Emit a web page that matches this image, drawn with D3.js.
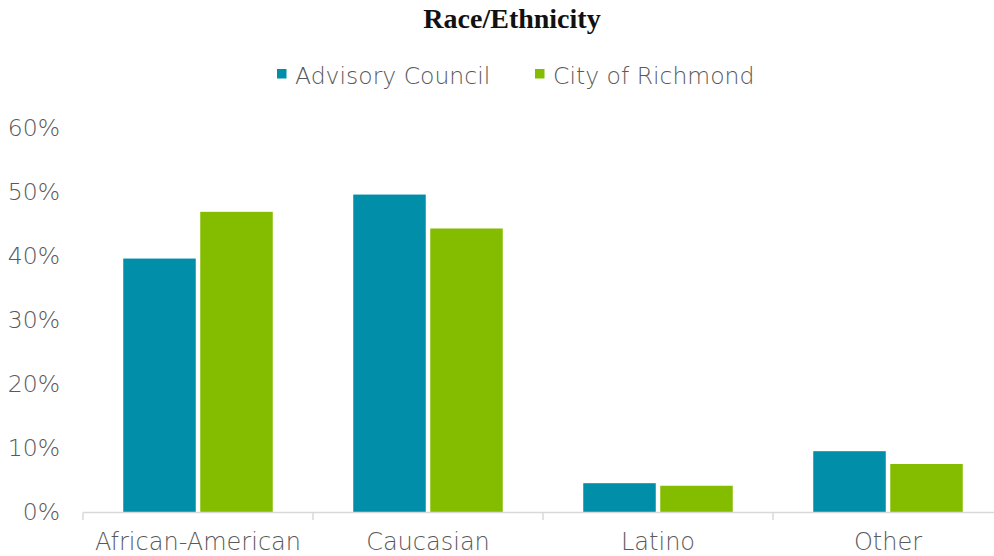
<!DOCTYPE html>
<html>
<head>
<meta charset="utf-8">
<script src="https://cdn.jsdelivr.net/npm/d3@7"></script>
<style>
  body { margin: 0; background: #fff; }
  svg { display: block; }
</style>
</head>
<body>
<div id="chart"></div>
<script>
const categories = ['African-American', 'Caucasian', 'Latino', 'Other'];
const seriesNames = ['Advisory Council', 'City of Richmond'];
const advisoryCouncil = [0.396, 0.496, 0.045, 0.095];
const cityOfRichmond = [0.469, 0.443, 0.041, 0.075];
const yTicks = [0, 0.1, 0.2, 0.3, 0.4, 0.5, 0.6];
const colors = ['#008ea9', '#84bd00'];

const width = 994, height = 556;
const margin = { top: 128, right: -9, bottom: 44, left: 83 };
const innerW = width - margin.left - margin.right;
const innerH = height - margin.top - margin.bottom;

const svg = d3.select('#chart').append('svg')
  .attr('width', width).attr('height', height);

function styleLabel(sel, size) {
  sel.style('font-family', '"DejaVu Sans", sans-serif')
    .style('font-size', size)
    .style('font-weight', 200)
    .style('fill', '#595959');
}

// Title
svg.append('text')
  .attr('x', 512).attr('y', 28)
  .attr('text-anchor', 'middle')
  .style('font-family', '"Liberation Serif", "DejaVu Serif", serif')
  .style('font-weight', 'bold')
  .style('font-size', '28px')
  .style('fill', '#111')
  .text('Race/Ethnicity');

// Legend
const legendX = [277, 535];
seriesNames.forEach((name, i) => {
  const lg = svg.append('g').attr('transform', `translate(${legendX[i]}, 74)`);
  lg.append('rect').attr('x', 0).attr('y', -5).attr('width', 9.5).attr('height', 9.5).attr('fill', colors[i]);
  lg.append('text').attr('x', 18).attr('y', 9.5).text(name).call(styleLabel, '23.5px');
});

const g = svg.append('g').attr('transform', `translate(${margin.left},${margin.top})`);

const x = d3.scaleBand().domain(categories).range([0, innerW]).paddingInner(0).paddingOuter(0);
const y = d3.scaleLinear().domain([0, 0.6]).range([innerH, 0]);

// Y tick labels (no axis line)
const yAxis = g.append('g')
  .call(d3.axisLeft(y).tickValues(yTicks).tickFormat(d3.format('.0%')).tickSize(0).tickPadding(23));
yAxis.select('.domain').remove();
yAxis.selectAll('text').call(styleLabel, '23.5px');

// Bars
const barW = 72.5, gap = 4.5;
const sub = d3.scaleBand().domain(seriesNames).range([0, barW * 2 + gap]).paddingInner(gap / (barW + gap));
const groupOffset = (x.bandwidth() - (barW * 2 + gap)) / 2;
const series = [advisoryCouncil, cityOfRichmond];

categories.forEach((c, ci) => {
  series.forEach((vals, si) => {
    g.append('rect')
      .attr('x', x(c) + groupOffset + sub(seriesNames[si]))
      .attr('y', y(vals[ci]))
      .attr('width', sub.bandwidth())
      .attr('height', innerH - y(vals[ci]))
      .attr('fill', colors[si]);
  });
});

// X axis with boundary ticks
const xAxisG = g.append('g').attr('transform', `translate(0,${innerH})`);
xAxisG.append('line')
  .attr('x1', 0).attr('x2', innerW)
  .attr('y1', 0.5).attr('y2', 0.5)
  .attr('stroke', '#d9d9d9').attr('stroke-width', 1.5);
const boundaries = categories.map(c => x(c)).concat([innerW]);
boundaries.forEach(bx => {
  xAxisG.append('line')
    .attr('x1', bx).attr('x2', bx)
    .attr('y1', 0.5).attr('y2', 8)
    .attr('stroke', '#d9d9d9').attr('stroke-width', 1.5);
});
categories.forEach(c => {
  xAxisG.append('text')
    .attr('x', x(c) + x.bandwidth() / 2)
    .attr('y', 38)
    .attr('text-anchor', 'middle')
    .text(c)
    .call(styleLabel, '24px');
});
</script>
</body>
</html>
